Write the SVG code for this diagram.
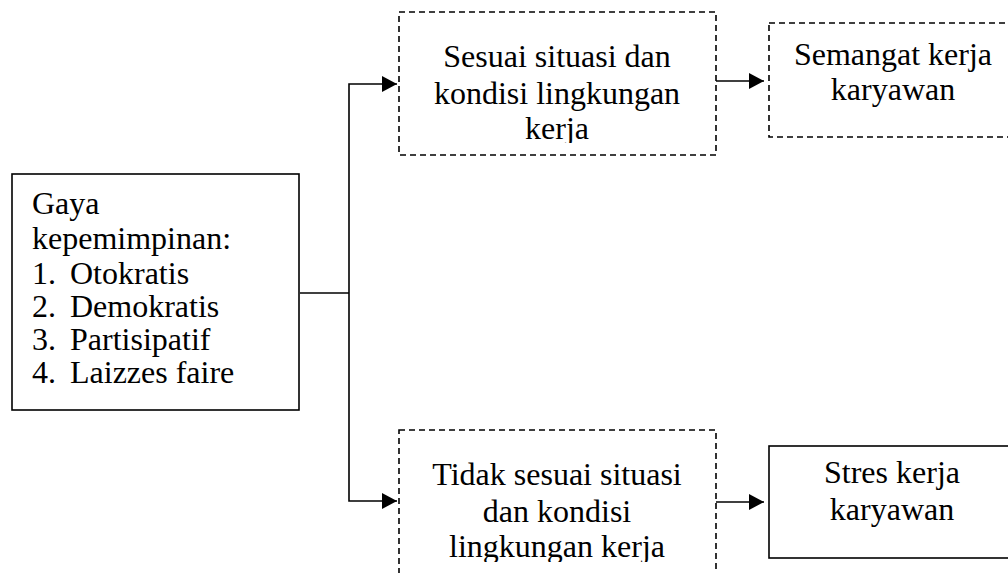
<svg xmlns="http://www.w3.org/2000/svg" width="1008" height="573" viewBox="0 0 1008 573">
<style>
text{font-family:"Liberation Serif","DejaVu Serif",serif;font-size:32px;fill:#000}
.c{text-anchor:middle}
.box{fill:#fff;stroke:#000;stroke-width:1.6}
.dash{stroke-dasharray:6,4}
.ln{fill:none;stroke:#000;stroke-width:1.6}
</style>
<defs>
<marker id="ah" markerUnits="userSpaceOnUse" markerWidth="16" markerHeight="16" refX="15" refY="8" orient="auto">
<path d="M0,0 L15,8 L0,16 z" fill="#000"/>
</marker>
<clipPath id="clipTop"><rect x="399" y="12" width="317" height="131"/></clipPath>
<clipPath id="clipBot"><rect x="399" y="430" width="317" height="132"/></clipPath>
</defs>
<g id="connectors">
<polyline class="ln" points="300,293 349,293"/>
<polyline class="ln" points="349,293 349,84 397,84" marker-end="url(#ah)"/>
<polyline class="ln" points="349,293 349,501 397,501" marker-end="url(#ah)"/>
<line class="ln" x1="716" y1="81" x2="764" y2="81" marker-end="url(#ah)"/>
<line class="ln" x1="716" y1="502" x2="764" y2="502" marker-end="url(#ah)"/>
</g>
<g id="gaya">
<rect class="box" x="12" y="174" width="287" height="236"/>
<text x="32" y="214" font-family="Liberation Serif, serif">Gaya</text>
<text x="32" y="249" font-family="Liberation Serif, serif">kepemimpinan:</text>
<text x="32" y="284" font-family="Liberation Serif, serif">1.</text><text x="70" y="284" font-family="Liberation Serif, serif">Otokratis</text>
<text x="32" y="317" font-family="Liberation Serif, serif">2.</text><text x="70" y="317" font-family="Liberation Serif, serif">Demokratis</text>
<text x="32" y="350" font-family="Liberation Serif, serif">3.</text><text x="70" y="350" font-family="Liberation Serif, serif">Partisipatif</text>
<text x="32" y="383" font-family="Liberation Serif, serif">4.</text><text x="70" y="383" font-family="Liberation Serif, serif">Laizzes faire</text>
</g>
<g id="sesuai">
<rect class="box dash" x="399" y="12" width="317" height="143"/>
<g clip-path="url(#clipTop)">
<text class="c" x="557" y="67">Sesuai situasi dan</text>
<text class="c" x="557" y="104">kondisi lingkungan</text>
<text class="c" x="557" y="139">kerja</text>
</g>
</g>
<g id="semangat">
<rect class="box dash" x="769" y="23" width="260" height="114"/>
<text class="c" x="893" y="65">Semangat kerja</text>
<text class="c" x="893" y="100">karyawan</text>
</g>
<g id="tidak">
<rect class="box dash" x="399" y="430" width="317" height="160"/>
<g clip-path="url(#clipBot)">
<text class="c" x="557" y="485">Tidak sesuai situasi</text>
<text class="c" x="557" y="522">dan kondisi</text>
<text class="c" x="557" y="557">lingkungan kerja</text>
</g>
</g>
<g id="stres">
<rect class="box" x="769" y="446" width="260" height="112"/>
<text class="c" x="892" y="483">Stres kerja</text>
<text class="c" x="892" y="520">karyawan</text>
</g>
</svg>
